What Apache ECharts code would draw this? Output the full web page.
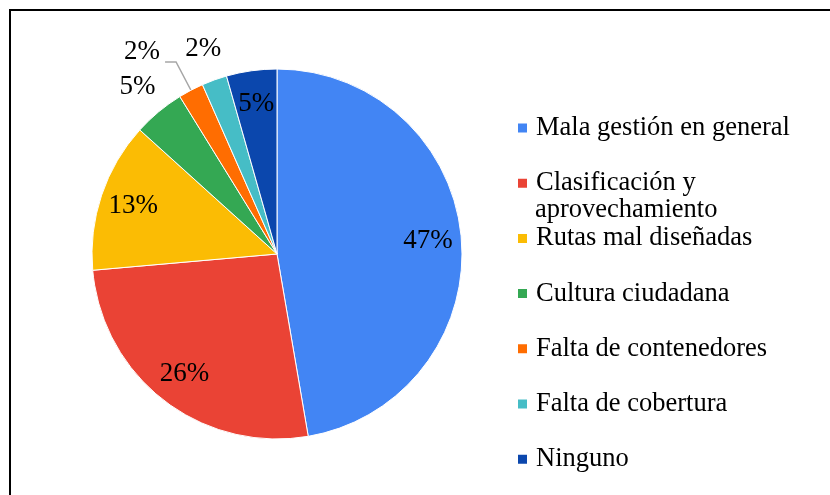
<!DOCTYPE html>
<html>
<head>
<meta charset="utf-8">
<script src="https://cdn.jsdelivr.net/npm/echarts@6/dist/echarts.min.js"></script>
<style>
  html, body { margin: 0; padding: 0; background: #fff; }
  #chart { width: 830px; height: 495px; }
</style>
</head>
<body>
<div id="chart"></div>
<script>
// datos del gráfico
const categories = [
  'Mala gestión en general',
  'Clasificación y aprovechamiento',
  'Rutas mal diseñadas',
  'Cultura ciudadana',
  'Falta de contenedores',
  'Falta de cobertura',
  'Ninguno'
];
const shares = [47.3, 26.3, 13.1, 4.5, 2.2, 2.2, 4.4];
const shareLabels = ['47%', '26%', '13%', '5%', '2%', '2%', '5%'];
const colors = ['#4285f4', '#ea4335', '#fbbc04', '#34a853', '#ff6d01', '#46bdc6', '#0b47ad'];

// donde va cada etiqueta: dentro, fuera, o con línea guía
const labelPlace = ['in', 'in', 'in', 'out', 'line', 'out', 'in'];

const font = 'Liberation Serif';
const center = [277, 254];
const clasParts = categories[1].split(' y ');

const chart = echarts.init(document.getElementById('chart'));

// serie transparente que solo sirve para colocar etiquetas
function labelSeries(radius, place) {
  return {
    type: 'pie',
    center: center,
    radius: radius,
    startAngle: 90,
    silent: true,
    avoidLabelOverlap: false,
    labelLayout: { hideOverlap: false },
    emphasis: { disabled: true },
    itemStyle: { color: 'transparent', borderWidth: 0 },
    labelLine: { show: false },
    label: {
      position: 'inside',
      color: '#000',
      fontFamily: font,
      fontSize: 27,
      formatter: (p) => shareLabels[p.dataIndex]
    },
    data: categories.map((name, i) => ({
      name: name,
      value: shares[i],
      label: { show: labelPlace[i] === place }
    }))
  };
}

const option = {
  backgroundColor: '#fff',
  animation: false,
  color: colors,
  legend: {
    orient: 'vertical',
    left: 516,
    top: 114,
    padding: 0,
    itemWidth: 11,
    itemHeight: 11,
    itemGap: 27.2,
    icon: 'rect',
    selectedMode: false,
    data: categories,
    formatter: (name) => name === categories[1] ? clasParts[0] + ' y' : name,
    textStyle: {
      color: '#000',
      fontFamily: font,
      fontSize: 26.5,
      lineHeight: 28,
      padding: [0, 0, 0, 3]
    }
  },
  graphic: [
    // marco
    { type: 'line', shape: { x1: 10, y1: 10, x2: 830, y2: 10 }, style: { stroke: '#000', lineWidth: 2 } },
    { type: 'line', shape: { x1: 10, y1: 9, x2: 10, y2: 495 }, style: { stroke: '#000', lineWidth: 2 } },
    // segunda línea de la leyenda
    {
      type: 'text', x: 535, y: 210,
      style: { text: clasParts[1], font: '26.5px "Liberation Serif"', fill: '#000', verticalAlign: 'middle' }
    }
  ],
  series: [
    {
      name: 'principal',
      type: 'pie',
      center: center,
      radius: 185,
      startAngle: 90,
      avoidLabelOverlap: false,
      labelLayout: { hideOverlap: false },
      emphasis: { disabled: true },
      itemStyle: { borderColor: '#fff', borderWidth: 1 },
      label: { show: false },
      labelLine: { show: false },
      data: categories.map((name, i) => {
        const item = { name: name, value: shares[i] };
        if (labelPlace[i] === 'line') {
          item.label = {
            show: true,
            position: 'outside',
            color: '#000',
            fontFamily: font,
            fontSize: 27,
            lineHeight: 20,
            formatter: shareLabels[i] + '\n '
          };
          item.labelLine = {
            show: true,
            length: 32,
            length2: 11,
            lineStyle: { color: '#a6a6a6', width: 1.5 }
          };
        }
        return item;
      })
    },
    labelSeries([112, 185], 'in'),
    labelSeries([200, 230], 'out')
  ]
};

chart.setOption(option);
</script>
</body>
</html>
